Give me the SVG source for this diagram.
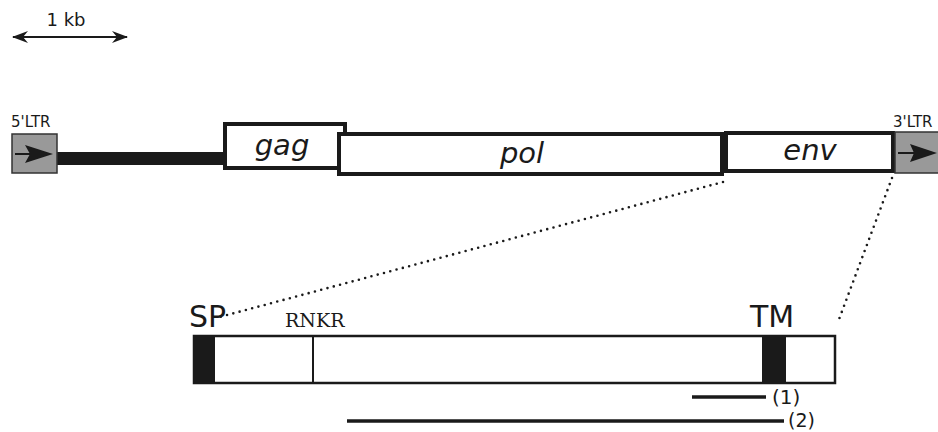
<svg xmlns="http://www.w3.org/2000/svg" width="938" height="432" viewBox="0 0 938 432">
<style>
.box{fill:#fff;stroke:#1a1a1a;stroke-width:4}
.ltr{fill:#999;stroke:#333;stroke-width:1.5}
.thin{fill:#fff;stroke:#1a1a1a;stroke-width:2.5}
.blk{fill:#1a1a1a}
.lab{font-family:"DejaVu Sans",sans-serif;fill:#1a1a1a}
.it{font-family:"DejaVu Sans",sans-serif;font-style:italic;fill:#1a1a1a;font-size:29px;text-anchor:middle}
.dot{stroke:#1a1a1a;stroke-width:2.6;stroke-linecap:round;stroke-dasharray:0 6.5;fill:none}
.ln{stroke:#1a1a1a;stroke-width:3.5}
</style>
<defs>
<marker id="ah" viewBox="0 0 16 12" refX="15" refY="6" markerWidth="16" markerHeight="12" markerUnits="userSpaceOnUse" orient="auto-start-reverse">
<path d="M0,0 L16,6 L0,12 L5,6 Z" fill="#1a1a1a"/>
</marker>
</defs>
<g id="scale">
<line x1="13" y1="37" x2="127" y2="37" stroke="#1a1a1a" stroke-width="2" marker-start="url(#ah)" marker-end="url(#ah)"/>
<text class="lab" x="66" y="26" font-size="18" text-anchor="middle">1 kb</text>
</g>
<g id="connectors">
<rect x="57" y="152" width="168" height="13" fill="#1a1a1a"/>
<rect x="721" y="150" width="5" height="16" fill="#1a1a1a"/>
<line class="dot" x1="723" y1="182" x2="216" y2="318"/>
<line class="dot" x1="892" y1="178" x2="838" y2="322"/>
</g>
<g id="ltr5">
<rect class="ltr" x="12" y="134" width="45" height="39"/>
<line x1="15" y1="154" x2="30" y2="154" stroke="#1a1a1a" stroke-width="2"/>
<path d="M25,145 L53,154 L25,163 L30,154 Z" fill="#1a1a1a"/>
<text class="lab" x="11" y="127" font-size="15">5'LTR</text>
</g>
<g id="gag">
<rect class="box" x="225" y="124" width="120" height="44"/>
<text class="it" x="282" y="155">gag</text>
</g>
<g id="pol">
<rect class="box" x="339" y="134" width="383" height="40"/>
<text class="it" x="522" y="163">pol</text>
</g>
<g id="env">
<rect class="box" x="726" y="133" width="167" height="38"/>
<text class="it" x="810" y="160">env</text>
</g>
<g id="ltr3">
<rect class="ltr" x="895" y="132" width="44" height="41"/>
<line x1="898" y1="153" x2="914" y2="153" stroke="#1a1a1a" stroke-width="2"/>
<path d="M910,144 L937,153 L910,162 L914,153 Z" fill="#1a1a1a"/>
<text class="lab" x="893" y="127" font-size="15">3'LTR</text>
</g>
<g id="envprotein">
<rect class="thin" x="194" y="336" width="641" height="47"/>
<rect class="blk" x="194" y="336" width="21" height="47"/>
<rect class="blk" x="762" y="336" width="24" height="47"/>
<line x1="313" y1="336" x2="313" y2="383" stroke="#1a1a1a" stroke-width="2"/>
<text class="lab" x="189" y="327" font-size="30">SP</text>
<text x="285" y="327" font-family="'DejaVu Serif',serif" font-size="19" fill="#1a1a1a">RNKR</text>
<text class="lab" x="750" y="327" font-size="30">TM</text>
</g>
<g id="fragment1">
<line class="ln" x1="692" y1="397" x2="766" y2="397"/>
<text class="lab" x="772" y="404" font-size="20">(1)</text>
</g>
<g id="fragment2">
<line class="ln" x1="347" y1="421" x2="784" y2="421"/>
<text class="lab" x="788" y="427" font-size="19">(2)</text>
</g>
</svg>
